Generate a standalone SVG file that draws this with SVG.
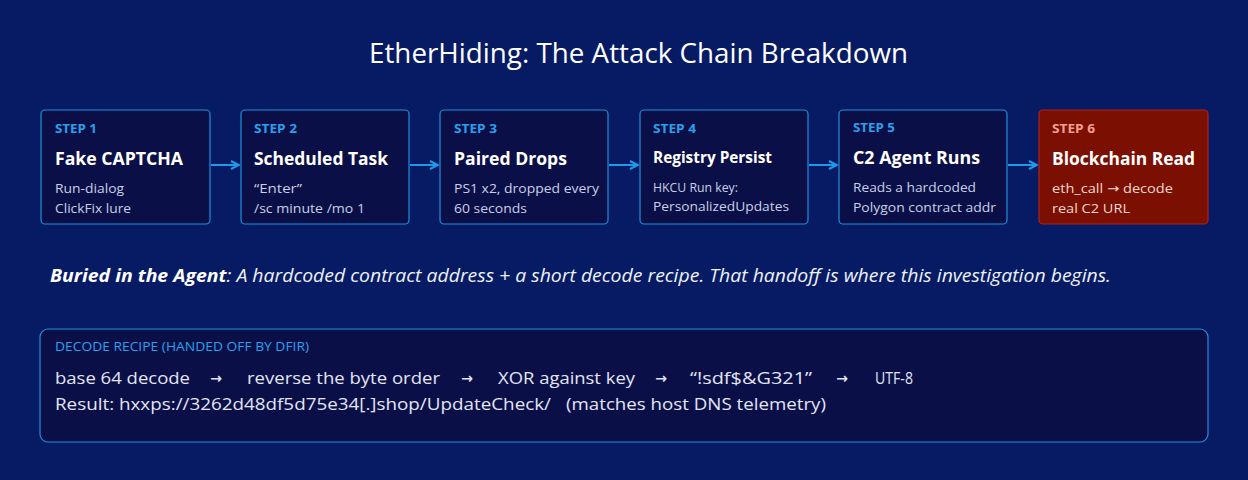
<svg xmlns="http://www.w3.org/2000/svg" width="1248" height="480" viewBox="0 0 1248 480">
<defs>
<marker id="arr" viewBox="0 0 10 10" refX="9" refY="5" markerWidth="10" markerHeight="10" markerUnits="userSpaceOnUse" orient="auto">
<path d="M1,1 L9,5 L1,9" fill="none" stroke="#1e9be8" stroke-width="2"/>
</marker>
<style>
text{font-family:"Open Sans","Noto Sans",sans-serif}
.box{fill:#0b0f47;stroke:#1f8fdc;stroke-width:1.2}
.red{fill:#7b1002;stroke:#a8251b;stroke-width:1.2}
.lbl{font-size:12px;font-weight:700;fill:#2aa0ea}
.rl{font-size:12px;font-weight:400;fill:#2aa0ea}
.lbl6{font-size:12px;font-weight:700;fill:#f2a08e}
.hd{font-size:17.5px;font-weight:700;fill:#ffffff}
.sub{font-size:13px;fill:#c9cfe6}
.sub6{font-size:13px;fill:#f0d6d2}
.conn{stroke:#1e9be8;stroke-width:2;fill:none}
.rc{font-size:17px;fill:#e2e6f4}
.ar{font-family:"DejaVu Sans",sans-serif;font-size:14px;font-weight:700;fill:#e2e6f4}
.dj{font-family:"DejaVu Sans",sans-serif}
</style>
</defs>
<rect width="1248" height="480" fill="#061b64"/>
<text x="638.5" y="63" text-anchor="middle" font-size="27.5" fill="#ffffff" textLength="539" lengthAdjust="spacingAndGlyphs">EtherHiding: The Attack Chain Breakdown</text>

<g id="connectors">
<line class="conn" x1="211" y1="165" x2="239" y2="165" marker-end="url(#arr)"/>
<line class="conn" x1="410" y1="165" x2="438" y2="165" marker-end="url(#arr)"/>
<line class="conn" x1="609" y1="165" x2="638" y2="165" marker-end="url(#arr)"/>
<line class="conn" x1="809" y1="165" x2="837" y2="165" marker-end="url(#arr)"/>
<line class="conn" x1="1008" y1="165" x2="1037" y2="165" marker-end="url(#arr)"/>
</g>

<g id="step1">
<rect class="box" x="41" y="110" width="169" height="114" rx="4"/>
<text class="lbl" x="55" y="133" textLength="42" lengthAdjust="spacingAndGlyphs">STEP 1</text>
<text class="hd" x="55" y="165" textLength="128" lengthAdjust="spacingAndGlyphs">Fake CAPTCHA</text>
<text class="sub" x="55" y="193" textLength="69" lengthAdjust="spacingAndGlyphs">Run-dialog</text>
<text class="sub" x="55" y="213" textLength="76" lengthAdjust="spacingAndGlyphs">ClickFix lure</text>
</g>
<g id="step2">
<rect class="box" x="241" y="110" width="168" height="114" rx="4"/>
<text class="lbl" x="254" y="133" textLength="43" lengthAdjust="spacingAndGlyphs">STEP 2</text>
<text class="hd" x="254" y="165" textLength="134" lengthAdjust="spacingAndGlyphs">Scheduled Task</text>
<text class="sub" x="254" y="193" textLength="48" lengthAdjust="spacingAndGlyphs">“Enter”</text>
<text class="sub" x="254" y="213" textLength="111" lengthAdjust="spacingAndGlyphs">/sc minute /mo 1</text>
</g>
<g id="step3">
<rect class="box" x="440" y="110" width="168" height="114" rx="4"/>
<text class="lbl" x="454" y="133" textLength="43" lengthAdjust="spacingAndGlyphs">STEP 3</text>
<text class="hd" x="454" y="165" textLength="113" lengthAdjust="spacingAndGlyphs">Paired Drops</text>
<text class="sub" x="454" y="193" textLength="145" lengthAdjust="spacingAndGlyphs">PS1 x2, dropped every</text>
<text class="sub" x="454" y="213" textLength="73" lengthAdjust="spacingAndGlyphs">60 seconds</text>
</g>
<g id="step4">
<rect class="box" x="640" y="110" width="168" height="114" rx="4"/>
<text class="lbl" x="653" y="133" textLength="43" lengthAdjust="spacingAndGlyphs">STEP 4</text>
<text class="hd" x="653" y="163" style="font-size:16px" textLength="119" lengthAdjust="spacingAndGlyphs">Registry Persist</text>
<text class="sub" x="653" y="192" textLength="85" lengthAdjust="spacingAndGlyphs">HKCU Run key:</text>
<text class="sub" x="653" y="211" textLength="136" lengthAdjust="spacingAndGlyphs">PersonalizedUpdates</text>
</g>
<g id="step5">
<rect class="box" x="839" y="110" width="168" height="114" rx="4"/>
<text class="lbl" x="853" y="132" textLength="42" lengthAdjust="spacingAndGlyphs">STEP 5</text>
<text class="hd" x="853" y="164" textLength="127" lengthAdjust="spacingAndGlyphs">C2 Agent Runs</text>
<text class="sub" x="853" y="192" textLength="123" lengthAdjust="spacingAndGlyphs">Reads a hardcoded</text>
<text class="sub" x="853" y="212" textLength="143" lengthAdjust="spacingAndGlyphs">Polygon contract addr</text>
</g>
<g id="step6">
<rect class="red" x="1039" y="110" width="169" height="114" rx="4"/>
<text class="lbl6" x="1052" y="133" textLength="43" lengthAdjust="spacingAndGlyphs">STEP 6</text>
<text class="hd" x="1052" y="165" textLength="143" lengthAdjust="spacingAndGlyphs">Blockchain Read</text>
<text class="sub6" x="1052" y="193" textLength="121" lengthAdjust="spacingAndGlyphs">eth_call <tspan class="dj">→</tspan> decode</text>
<text class="sub6" x="1052" y="213" textLength="78" lengthAdjust="spacingAndGlyphs">real C2 URL</text>
</g>

<text x="50" y="282" font-size="17.5" font-style="italic" fill="#eef1f8" textLength="1061" lengthAdjust="spacingAndGlyphs"><tspan font-weight="700" fill="#ffffff">Buried in the Agent</tspan>: A hardcoded contract address + a short decode recipe. That handoff is where this investigation begins.</text>

<g id="recipe">
<rect class="box" x="40" y="329" width="1168" height="113" rx="8"/>
<text class="rl" x="55" y="351" textLength="254" lengthAdjust="spacingAndGlyphs">DECODE RECIPE (HANDED OFF BY DFIR)</text>
<text class="rc" x="55" y="384" textLength="135" lengthAdjust="spacingAndGlyphs">base 64 decode</text>
<text class="ar" x="216" y="383" text-anchor="middle">→</text>
<text class="rc" x="247" y="384" textLength="193" lengthAdjust="spacingAndGlyphs">reverse the byte order</text>
<text class="ar" x="467" y="383" text-anchor="middle">→</text>
<text class="rc" x="498" y="384" textLength="137" lengthAdjust="spacingAndGlyphs">XOR against key</text>
<text class="ar" x="661" y="383" text-anchor="middle">→</text>
<text class="rc" x="690" y="384" textLength="122" lengthAdjust="spacingAndGlyphs">“!sdf$&amp;G321”</text>
<text class="ar" x="842" y="383" text-anchor="middle">→</text>
<text class="rc" x="875" y="384" textLength="38" lengthAdjust="spacingAndGlyphs">UTF-8</text>
<text class="rc" x="55" y="410" textLength="496" lengthAdjust="spacingAndGlyphs">Result: hxxps://3262d48df5d75e34[.]shop/UpdateCheck/</text>
<text class="rc" x="566" y="410" textLength="260" lengthAdjust="spacingAndGlyphs">(matches host DNS telemetry)</text>
</g>
</svg>
